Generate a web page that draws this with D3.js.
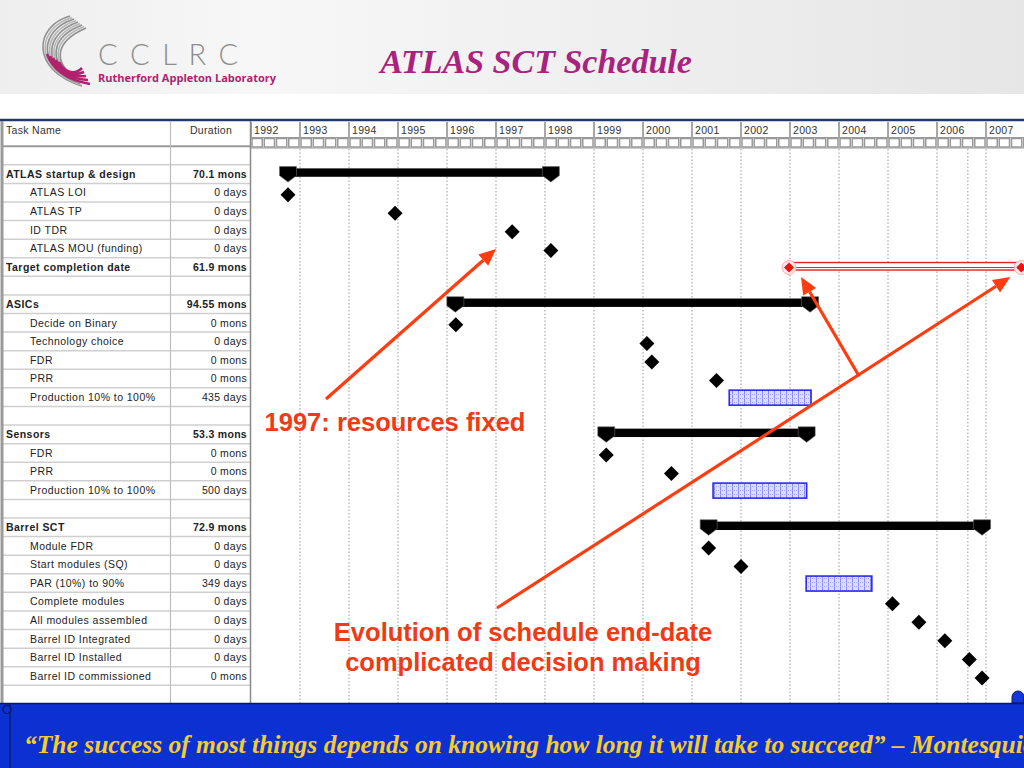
<!DOCTYPE html>
<html><head><meta charset="utf-8">
<script src="https://cdn.jsdelivr.net/npm/d3@7"></script>
<style>html,body{margin:0;padding:0;background:#fff;overflow:hidden}</style>
</head><body><svg id="c" width="1024" height="768"></svg>
<script>
// ---------- data ----------
const taskNames = ["", "ATLAS startup & design", "ATLAS LOI", "ATLAS TP", "ID TDR", "ATLAS MOU (funding)", "Target completion date", "",
  "ASICs", "Decide on Binary", "Technology choice", "FDR", "PRR", "Production 10% to 100%", "",
  "Sensors", "FDR", "PRR", "Production 10% to 100%", "",
  "Barrel SCT", "Module FDR", "Start modules (SQ)", "PAR (10%) to 90%", "Complete modules", "All modules assembled",
  "Barrel ID Integrated", "Barrel ID Installed", "Barrel ID commissioned", ""];
const durations = ["", "70.1 mons", "0 days", "0 days", "0 days", "0 days", "61.9 mons", "",
  "94.55 mons", "0 mons", "0 days", "0 mons", "0 mons", "435 days", "",
  "53.3 mons", "0 mons", "0 mons", "500 days", "",
  "72.9 mons", "0 days", "0 days", "349 days", "0 days", "0 days", "0 days", "0 days", "0 mons", ""];
const taskKinds = ["", "summary", "milestone", "milestone", "milestone", "milestone", "target", "",
  "summary", "milestone", "milestone", "milestone", "milestone", "task", "",
  "summary", "milestone", "milestone", "task", "",
  "summary", "milestone", "milestone", "task", "milestone", "milestone", "milestone", "milestone", "milestone", ""];
// start / finish dates in decimal years
const taskStarts = [null, 1992.755, 1992.755, 1994.94, 1997.33, 1998.12, 2002.98, null,
  1996.17, 1996.18, 2000.08, 2000.18, 2001.50, 2001.76, null,
  1999.25, 1999.25, 2000.58, 2001.43, null,
  2001.34, 2001.34, 2002.00, 2003.33, 2005.09, 2005.63, 2006.16, 2006.66, 2006.92, null];
const taskEnds = [null, 1998.12, null, null, null, null, 2007.72, null,
  2003.41, null, null, null, null, 2003.43, null,
  2003.34, null, null, 2003.34, null,
  2006.92, null, null, 2004.67, null, null, null, null, null, null];
const yearLabels = d3.range(1992, 2008);
const extraGridDates = [2006.63];

// ---------- layout ----------
const svg = d3.select("#c");
const W = 1024, H = 768;
const x = d3.scaleLinear().domain([1992, 2007]).range([251, 986]);
const rowH = 18.59;
const y = d3.scaleBand().domain(d3.range(taskNames.length)).range([146.2, 146.2 + taskNames.length * rowH]).paddingInner(0);
const tableBottom = 703;
const defs = svg.append("defs");
const sans = "'Liberation Sans', Arial, sans-serif";

// top band gradient
const g1 = defs.append("linearGradient").attr("id", "topg").attr("x1", 0).attr("x2", 1).attr("y1", 0).attr("y2", 0);
g1.append("stop").attr("offset", 0).attr("stop-color", "#eeeeee");
g1.append("stop").attr("offset", 0.25).attr("stop-color", "#f7f7f7");
g1.append("stop").attr("offset", 1).attr("stop-color", "#e6e6e6");
svg.append("rect").attr("x", 0).attr("y", 0).attr("width", W).attr("height", 94).attr("fill", "url(#topg)");

// hatch pattern
const pat = defs.append("pattern").attr("id", "hatch").attr("patternUnits", "userSpaceOnUse").attr("width", 6).attr("height", 4);
pat.append("rect").attr("width", 6).attr("height", 4).attr("fill", "#dcdcff");
pat.append("line").attr("x1", 0.5).attr("x2", 0.5).attr("y1", 0).attr("y2", 4).attr("stroke", "#8a8aff").attr("stroke-width", 1);
pat.append("line").attr("x1", 0).attr("x2", 6).attr("y1", 2.5).attr("y2", 2.5).attr("stroke", "#a8a8ff").attr("stroke-width", 1).attr("stroke-dasharray", "1,1");

// ---------- logo ----------
const logo = svg.append("g");
for (let i = 0; i < 9; i++) {
  logo.append("path")
    .attr("d", `M${70 + i * 2},${16 + i * 1.5} C${34 + i * 2.5},${26 + i * 2} ${30 + i * 3},${70 - i} ${82 - i},${86 - i * 1.2}`)
    .attr("fill", "none").attr("stroke", i % 2 ? "#b5b5b5" : "#8f8f8f").attr("stroke-width", 1.6);
}
for (let i = 0; i < 5; i++) {
  logo.append("path")
    .attr("d", `M${47 + i * 3},${54 + i * 2} C${52 + i * 3},${68 + i} ${66 + i * 2},${80 - i} ${90 - i * 2},${84 - i * 4}`)
    .attr("fill", "none").attr("stroke", "#b3206d").attr("stroke-width", 2.6);
}
logo.append("text").attr("x", 98).attr("y", 65).text("C C L R C")
  .attr("font-family", "Lato, 'Open Sans', sans-serif").attr("font-weight", 300).attr("font-size", 29).attr("fill", "#8c8c8c").attr("letter-spacing", 2.3);
logo.append("text").attr("x", 98).attr("y", 82).text("Rutherford Appleton Laboratory")
  .attr("font-family", "'Open Sans', sans-serif").attr("font-weight", 700).attr("font-size", 11).attr("fill", "#b01e6e");

// title
svg.append("text").attr("x", 536).attr("y", 73).attr("text-anchor", "middle").text("ATLAS SCT Schedule")
  .attr("font-family", "'Liberation Serif', serif").attr("font-style", "italic").attr("font-weight", 700)
  .attr("font-size", 34).attr("fill", "#a8237f");

// ---------- table ----------
svg.append("line").attr("x1", 0).attr("x2", W).attr("y1", 120).attr("y2", 120).attr("stroke", "#223a6b").attr("stroke-width", 2.5);
const tbl = svg.append("g");
tbl.selectAll("line.row").data(d3.range(taskNames.length + 1)).join("line")
  .attr("x1", 3).attr("x2", 250)
  .attr("y1", i => i === 0 ? 146.2 : y(i - 1) + rowH).attr("y2", i => i === 0 ? 146.2 : y(i - 1) + rowH)
  .attr("stroke", i => i === 0 ? "#9a9a9a" : "#cfcfcf").attr("stroke-width", i => i === 0 ? 2 : 1.5);
tbl.append("line").attr("x1", 2).attr("x2", 2).attr("y1", 121).attr("y2", tableBottom).attr("stroke", "#9a9a9a").attr("stroke-width", 3);
tbl.append("line").attr("x1", 170.5).attr("x2", 170.5).attr("y1", 121).attr("y2", tableBottom).attr("stroke", "#bdbdbd").attr("stroke-width", 1.2);
tbl.append("line").attr("x1", 250.5).attr("x2", 250.5).attr("y1", 121).attr("y2", tableBottom).attr("stroke", "#8a8a8a").attr("stroke-width", 1.5);
tbl.append("text").attr("x", 6).attr("y", 134).text("Task Name").attr("font-family", sans).attr("font-size", 10.5).attr("letter-spacing", 0.3).attr("fill", "#333");
tbl.append("text").attr("x", 211).attr("y", 134).attr("text-anchor", "middle").text("Duration").attr("font-family", sans).attr("font-size", 10.5).attr("letter-spacing", 0.3).attr("fill", "#333");

const isBold = k => k === "summary" || k === "target";
tbl.selectAll("text.name").data(taskNames.map((n, i) => ({n, i, k: taskKinds[i]}))).join("text")
  .attr("x", d => isBold(d.k) ? 6 : 30).attr("y", d => y(d.i) + rowH / 2 + 3.8)
  .text(d => d.n).attr("font-family", sans).attr("font-size", 10.5).attr("letter-spacing", 0.45)
  .attr("font-weight", d => isBold(d.k) ? 700 : 400).attr("fill", "#222");
tbl.selectAll("text.dur").data(durations.map((n, i) => ({n, i, k: taskKinds[i]}))).join("text")
  .attr("x", 247).attr("y", d => y(d.i) + rowH / 2 + 3.8).attr("text-anchor", "end")
  .text(d => d.n).attr("font-family", sans).attr("font-size", 10.5).attr("letter-spacing", 0.3)
  .attr("font-weight", d => isBold(d.k) ? 700 : 400).attr("fill", "#222");

// ---------- gantt header ----------
const hdr = svg.append("g");
yearLabels.forEach(yr => {
  const x0 = x(yr);
  hdr.append("line").attr("x1", x0).attr("x2", x0).attr("y1", 122).attr("y2", 137).attr("stroke", "#8a8a8a").attr("stroke-width", 1.5);
  hdr.append("text").attr("x", x0 + 3).attr("y", 134).text(yr).attr("font-family", sans).attr("font-size", 10.5).attr("letter-spacing", 0.3).attr("fill", "#333");
  for (let q = 0; q < 4; q++) {
    const qa = x(yr + q / 4), qb = x(yr + (q + 1) / 4);
    hdr.append("rect").attr("x", qa + 1).attr("y", 138.5).attr("width", qb - qa - 2).attr("height", 8.5)
      .attr("fill", "#fff").attr("stroke", "#999").attr("stroke-width", 1.5);
  }
});
hdr.append("line").attr("x1", 251).attr("x2", W).attr("y1", 137.5).attr("y2", 137.5).attr("stroke", "#999").attr("stroke-width", 1.2);
hdr.append("line").attr("x1", 251).attr("x2", W).attr("y1", 148).attr("y2", 148).attr("stroke", "#999").attr("stroke-width", 1.2);

// gridlines
svg.append("g").selectAll("line").data(yearLabels.slice(1).concat(extraGridDates)).join("line")
  .attr("x1", d => x(d)).attr("x2", d => x(d)).attr("y1", 149).attr("y2", tableBottom)
  .attr("stroke", "#9a9a9a").attr("stroke-width", 1).attr("stroke-dasharray", "1.5,2");

// ---------- gantt marks ----------
const marks = svg.append("g");
const rows = taskNames.map((n, i) => ({i, k: taskKinds[i], s: taskStarts[i], e: taskEnds[i]}));
const cy = i => y(i) + rowH / 2;
const capPath = cx => `M${cx - 8.5},-6 H${cx + 8.5} V3 L${cx},9.5 L${cx - 8.5},3 Z`;
rows.filter(d => d.k === "summary").forEach(d => {
  const g = marks.append("g").attr("transform", `translate(0,${cy(d.i) - 1.5})`);
  g.append("rect").attr("x", x(d.s)).attr("y", -4.2).attr("width", x(d.e) - x(d.s)).attr("height", 8.4).attr("fill", "#000");
  g.append("path").attr("d", capPath(x(d.s))).attr("fill", "#000").attr("stroke", "#666").attr("stroke-width", 0.6);
  g.append("path").attr("d", capPath(x(d.e))).attr("fill", "#000").attr("stroke", "#666").attr("stroke-width", 0.6);
});
const dsz = 7.5;
marks.selectAll("path.ms").data(rows.filter(d => d.k === "milestone")).join("path")
  .attr("d", d => { const cx = x(d.s), c = cy(d.i) + 2; return `M${cx},${c - dsz} L${cx + dsz},${c} L${cx},${c + dsz} L${cx - dsz},${c} Z`; })
  .attr("fill", "#000");
marks.selectAll("rect.task").data(rows.filter(d => d.k === "task")).join("rect")
  .attr("x", d => x(d.s)).attr("y", d => cy(d.i) - 7).attr("width", d => x(d.e) - x(d.s)).attr("height", 15)
  .attr("fill", "url(#hatch)").attr("stroke", "#2a2af0").attr("stroke-width", 1.6);
rows.filter(d => d.k === "target").forEach(d => {
  const c = cy(d.i);
  const x0 = x(d.s), x1 = x(d.e);
  marks.append("rect").attr("x", x0).attr("y", c - 4.5).attr("width", x1 - x0).attr("height", 7.5)
    .attr("fill", "#fff").attr("stroke", "#e62020").attr("stroke-width", 1.4);
  marks.append("line").attr("x1", x0).attr("x2", x1).attr("y1", c + 0.5).attr("y2", c + 0.5).attr("stroke", "#e62020").attr("stroke-width", 1);
  [x0, x1].forEach(px => {
    marks.append("circle").attr("cx", px).attr("cy", c + 0.5).attr("r", 7).attr("fill", "#fde6e6").attr("stroke", "#f6b0b0");
    marks.append("path").attr("d", `M${px},${c - 4.5} L${px + 5},${c + 0.5} L${px},${c + 5.5} L${px - 5},${c + 0.5} Z`).attr("fill", "#ee1111");
  });
});

// ---------- annotations ----------
const ann = svg.append("g");
const red = "#ff3c10";
function arrow(x1, y1, x2, y2) {
  const ang = Math.atan2(y2 - y1, x2 - x1), L = 17, Wd = 7.5;
  const bx = x2 - L * Math.cos(ang), by = y2 - L * Math.sin(ang);
  ann.append("line").attr("x1", x1).attr("y1", y1).attr("x2", bx).attr("y2", by).attr("stroke", red).attr("stroke-width", 3.2);
  const px = -Math.sin(ang) * Wd, py = Math.cos(ang) * Wd;
  ann.append("path").attr("d", `M${x2},${y2} L${bx + px},${by + py} L${bx - px},${by - py} Z`).attr("fill", red);
}
const tRow = taskKinds.indexOf("target");
arrow(326, 399, 496, 249);
arrow(497, 608, x(taskEnds[tRow]) - 11, cy(tRow) + 10);
arrow(859, 376, x(taskStarts[tRow]) + 12, cy(tRow) + 10);
const annFont = 25.5;
ann.append("text").attr("x", 395).attr("y", 431).attr("text-anchor", "middle").text("1997: resources fixed")
  .attr("font-family", sans).attr("font-weight", 700).attr("font-size", annFont).attr("fill", "#f03a16");
ann.append("text").attr("x", 523).attr("y", 641).attr("text-anchor", "middle").text("Evolution of schedule end-date")
  .attr("font-family", sans).attr("font-weight", 700).attr("font-size", annFont).attr("fill", "#f03a16");
ann.append("text").attr("x", 523).attr("y", 671).attr("text-anchor", "middle").text("complicated decision making")
  .attr("font-family", sans).attr("font-weight", 700).attr("font-size", annFont).attr("fill", "#f03a16");

// ---------- banner ----------
const ban = svg.append("g");
ban.append("path").attr("d", "M1012,703 L1012,697 A6,6 0 0 1 1024,697 L1024,703 Z").attr("fill", "#1436d8").attr("stroke", "#0a1a60").attr("stroke-width", 1);
ban.append("rect").attr("x", 0).attr("y", 703).attr("width", W).attr("height", 65).attr("fill", "#0b31d3");
ban.append("line").attr("x1", 0).attr("x2", W).attr("y1", 703.5).attr("y2", 703.5).attr("stroke", "#0a1a60").attr("stroke-width", 1.5);
ban.append("path").attr("d", "M10,712 L10,768").attr("stroke", "#0a1a60").attr("stroke-width", 1.2);
ban.append("path").attr("d", "M10,712 A4,4 0 1 0 4,712 A3,3 0 0 0 10,708 L10,704").attr("fill", "none").attr("stroke", "#0a1a60").attr("stroke-width", 1.2);
ban.append("text").attr("x", 24).attr("y", 753).text("“The success of most things depends on knowing how long it will take to succeed” – Montesquieu")
  .attr("font-family", "'Liberation Serif', serif").attr("font-style", "italic").attr("font-weight", 700)
  .attr("font-size", 25.5).attr("fill", "#f7cc2a");
</script></body></html>
